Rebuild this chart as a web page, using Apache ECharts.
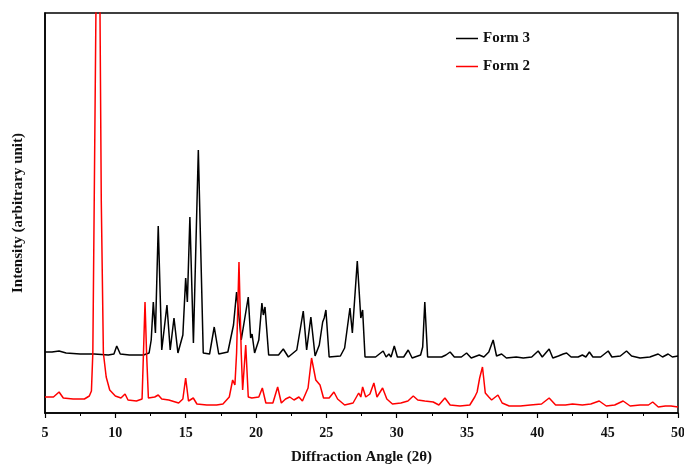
<!DOCTYPE html>
<html>
<head>
<meta charset="utf-8">
<script src="https://cdn.jsdelivr.net/npm/echarts@6/dist/echarts.min.js"></script>
<style>
  html, body { margin: 0; padding: 0; background: #fff; }
  #chart { width: 684px; height: 466px; }
</style>
</head>
<body>
<div id="chart"></div>
<script>
// x range and tick labels
var xTicks = [5, 10, 15, 20, 25, 30, 35, 40, 45, 50];
var seriesNames = ['Form 3', 'Form 2'];

// Form 3 (black, offset upward) : [2theta, intensity]
var form3 = [
  [5.0, 61], [5.5, 61], [6.0, 62], [6.5, 60], [7.5, 59], [8.5, 59], [9.5, 58], [9.9, 59],
  [10.1, 67], [10.35, 59], [11.0, 58], [12.0, 58], [12.4, 60], [12.55, 73], [12.7, 111],
  [12.85, 80], [13.05, 187], [13.3, 63], [13.67, 108], [13.9, 63], [14.17, 95], [14.45, 60],
  [14.8, 78], [15.0, 135], [15.12, 111], [15.3, 196], [15.55, 70], [15.9, 263], [16.25, 60],
  [16.7, 59], [17.03, 86], [17.35, 59], [18.0, 61], [18.4, 88], [18.62, 121], [18.95, 73],
  [19.45, 116], [19.62, 75], [19.72, 79], [19.9, 60], [20.2, 73], [20.42, 110], [20.52, 98],
  [20.64, 106], [20.9, 58], [21.6, 58], [21.94, 64], [22.3, 56], [22.9, 63], [23.36, 102],
  [23.6, 63], [23.9, 96], [24.2, 57], [24.5, 68], [24.74, 91], [24.85, 95], [24.97, 103],
  [25.2, 56], [26.0, 57], [26.3, 65], [26.68, 105], [26.85, 80], [27.2, 152], [27.45, 95],
  [27.58, 103], [27.75, 56], [28.5, 56], [29.04, 62], [29.25, 56], [29.45, 59], [29.6, 56],
  [29.83, 67], [30.05, 56], [30.5, 56], [30.82, 63], [31.1, 55], [31.7, 58], [31.85, 66],
  [32.0, 111], [32.2, 56], [32.8, 56], [33.2, 56], [33.5, 58], [33.8, 61], [34.1, 56],
  [34.6, 56], [34.97, 60], [35.3, 55], [35.87, 58], [36.2, 56], [36.55, 61], [36.86, 73],
  [37.1, 57], [37.46, 59], [37.8, 55], [38.5, 56], [39.0, 55], [39.6, 56], [40.06, 62],
  [40.35, 56], [40.84, 64], [41.1, 55], [41.5, 57], [41.84, 59], [42.08, 60], [42.4, 56],
  [42.9, 56], [43.2, 58], [43.45, 56], [43.7, 61], [43.95, 56], [44.5, 56], [45.04, 62],
  [45.3, 56], [45.9, 57], [46.34, 62], [46.7, 57], [47.3, 55], [48.0, 56], [48.59, 59],
  [48.9, 56], [49.3, 59], [49.6, 56], [50.0, 57]
];

// Form 2 (red) : [2theta, intensity]
var form2 = [
  [5.0, 16], [5.6, 16], [6.0, 21], [6.3, 15], [7.0, 14], [7.8, 14], [8.15, 17], [8.3, 22],
  [8.4, 60], [8.5, 213], [8.62, 400], [8.77, 520], [8.91, 400], [9.0, 213], [9.15, 60],
  [9.35, 36], [9.6, 23], [10.0, 17], [10.4, 15], [10.69, 19], [10.9, 13], [11.5, 12],
  [11.9, 14], [12.0, 60], [12.11, 111], [12.22, 60], [12.35, 15], [12.8, 16], [13.05, 18],
  [13.3, 14], [13.8, 13], [14.5, 10], [14.8, 14], [15.0, 35], [15.2, 12], [15.54, 15],
  [15.8, 9], [16.5, 8], [17.2, 8], [17.65, 9], [18.1, 16], [18.34, 33], [18.5, 28],
  [18.62, 60], [18.79, 151], [18.95, 60], [19.05, 23], [19.27, 68], [19.45, 16], [19.7, 15],
  [20.2, 16], [20.45, 25], [20.7, 10], [21.2, 10], [21.54, 26], [21.8, 10], [22.1, 14],
  [22.4, 16], [22.7, 13], [23.05, 16], [23.3, 12], [23.7, 25], [23.95, 55], [24.25, 33],
  [24.55, 28], [24.8, 15], [25.2, 15], [25.54, 21], [25.8, 14], [26.3, 8], [26.9, 10],
  [27.3, 20], [27.45, 16], [27.58, 26], [27.8, 16], [28.1, 19], [28.38, 30], [28.6, 16],
  [29.0, 25], [29.3, 14], [29.7, 9], [30.3, 10], [30.8, 12], [31.18, 17], [31.5, 13],
  [32.0, 12], [32.6, 11], [33.0, 8], [33.43, 15], [33.8, 8], [34.5, 7], [35.2, 8],
  [35.55, 16], [35.72, 21], [35.9, 35], [36.1, 46], [36.3, 20], [36.55, 16], [36.75, 13],
  [37.2, 18], [37.5, 10], [38.0, 7], [38.8, 7], [39.5, 8], [40.3, 9], [40.84, 15],
  [41.3, 8], [42.0, 8], [42.5, 9], [43.2, 8], [43.8, 9], [44.4, 12], [44.9, 7], [45.5, 8],
  [46.1, 12], [46.6, 7], [47.3, 8], [47.9, 8], [48.2, 11], [48.6, 6], [49.1, 7], [49.5, 7],
  [50.0, 6]
];

var fontFam = '"Liberation Serif", "Times New Roman", serif';
var chart = echarts.init(document.getElementById('chart'));

chart.setOption({
  backgroundColor: '#ffffff',
  animation: false,
  grid: {
    left: 45, right: 6, top: 13, bottom: 53,
    containLabel: false, outerBoundsMode: 'none',
    show: true, borderColor: '#000', borderWidth: 1.5, backgroundColor: 'transparent'
  },
  legend: {
    orient: 'vertical',
    left: 451, top: 26,
    icon: 'rect',
    itemWidth: 22, itemHeight: 1.5, itemGap: 13,
    data: seriesNames,
    textStyle: { fontFamily: fontFam, fontWeight: 'bold', fontSize: 15, color: '#111' }
  },
  xAxis: {
    type: 'value',
    min: xTicks[0], max: xTicks[xTicks.length - 1], interval: 5,
    name: 'Diffraction Angle (2θ)',
    nameLocation: 'middle', nameGap: 37,
    nameTextStyle: { fontFamily: fontFam, fontWeight: 'bold', fontSize: 15, color: '#111' },
    axisLine: { lineStyle: { color: '#000', width: 1.5 } },
    axisTick: { show: true, inside: false, length: 5, lineStyle: { color: '#000', width: 1.2 } },
    minorTick: { show: true, splitNumber: 2, length: 3, lineStyle: { color: '#000', width: 1 } },
    axisLabel: { margin: 13, fontFamily: fontFam, fontWeight: 'bold', fontSize: 14, color: '#111' },
    splitLine: { show: false }
  },
  yAxis: {
    type: 'value',
    min: 0, max: 400,
    name: 'Intensity (arbitrary unit)',
    nameLocation: 'middle', nameGap: 19,
    nameTextStyle: { fontFamily: fontFam, fontWeight: 'bold', fontSize: 15, color: '#111' },
    axisLine: { show: true, lineStyle: { color: '#000', width: 1.5 } },
    axisTick: { show: false },
    axisLabel: { show: false },
    splitLine: { show: false }
  },
  series: [
    {
      name: 'Form 3', type: 'line', data: form3, symbol: 'none', clip: true,
      lineStyle: { color: '#000', width: 1.5 }, itemStyle: { color: '#000' }
    },
    {
      name: 'Form 2', type: 'line', data: form2, symbol: 'none', clip: true,
      lineStyle: { color: '#ff0000', width: 1.5 }, itemStyle: { color: '#ff0000' }
    }
  ]
});
</script>
</body>
</html>
